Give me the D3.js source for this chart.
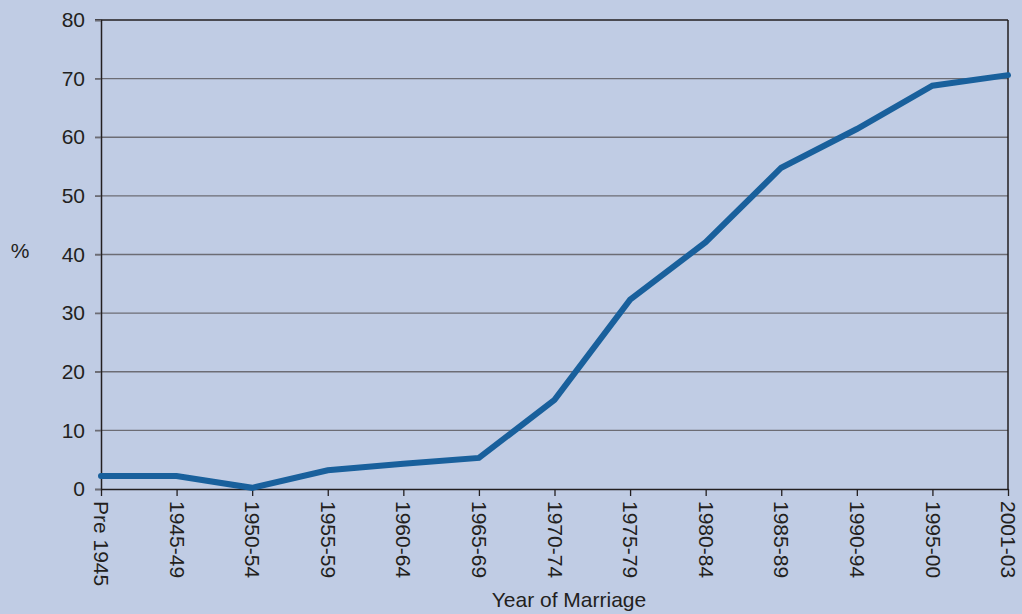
<!DOCTYPE html>
<html>
<head>
<meta charset="utf-8">
<script src="https://cdn.jsdelivr.net/npm/d3@7"></script>
<style>
  body { margin: 0; background: #c0cce4; }
  svg { display: block; }
  text { font-family: "Liberation Sans", Arial, sans-serif; fill: #231f20; }
</style>
</head>
<body>
<div id="chart"></div>
<script>
// data
const categories = ["Pre 1945", "1945-49", "1950-54", "1955-59", "1960-64", "1965-69",
    "1970-74", "1975-79", "1980-84", "1985-89", "1990-94", "1995-00", "2001-03"];
const values = [2.2, 2.2, 0.2, 3.2, 4.3, 5.3, 15.2, 32.3, 42.1, 54.8, 61.4, 68.8, 70.6];
const yTicks = [0, 10, 20, 30, 40, 50, 60, 70, 80];

const width = 1022, height = 614;
const margin = {top: 20, right: 14, bottom: 125, left: 101};

const svg = d3.select("#chart").append("svg")
    .attr("width", width)
    .attr("height", height);

const x = d3.scalePoint()
    .domain(categories)
    .range([margin.left, width - margin.right]);

const y = d3.scaleLinear()
    .domain([0, 80])
    .range([height - margin.bottom, margin.top]);

// gridlines
svg.append("g")
    .selectAll("line")
    .data(yTicks.filter(d => d > 0 && d < 80))
    .join("line")
    .attr("x1", margin.left - 6)
    .attr("x2", width - margin.right)
    .attr("y1", d => y(d))
    .attr("y2", d => y(d))
    .attr("stroke", "#6c6c74")
    .attr("stroke-width", 1.3);

// top and right borders
svg.append("line")
    .attr("x1", margin.left - 6).attr("x2", width - margin.right)
    .attr("y1", y(80)).attr("y2", y(80))
    .attr("stroke", "#231f20").attr("stroke-width", 1.5);
svg.append("line")
    .attr("x1", width - margin.right).attr("x2", width - margin.right)
    .attr("y1", y(80)).attr("y2", y(0))
    .attr("stroke", "#231f20").attr("stroke-width", 1.5);

// y axis
const yAxis = svg.append("g")
    .attr("transform", `translate(${margin.left},0)`)
    .call(d3.axisLeft(y).tickValues(yTicks).tickSize(6).tickPadding(10));
yAxis.select(".domain").attr("stroke", "#231f20").attr("stroke-width", 1.5);
yAxis.selectAll(".tick line").attr("stroke", "#6c6c74").attr("stroke-width", 1.3);
yAxis.selectAll(".tick text")
    .style("font-size", "21px")
    .style("fill", "#231f20");

// x axis
const xAxis = svg.append("g")
    .attr("transform", `translate(0,${y(0)})`)
    .call(d3.axisBottom(x).tickSize(7).tickSizeOuter(0));
xAxis.select(".domain").attr("stroke", "#231f20").attr("stroke-width", 1.5);
xAxis.selectAll(".tick line").attr("stroke", "#231f20").attr("stroke-width", 1.3);
xAxis.selectAll(".tick text")
    .style("font-size", "21px")
    .style("fill", "#231f20")
    .attr("text-anchor", "start")
    .attr("y", 0)
    .attr("dy", "0.35em")
    .attr("transform", "translate(0,12) rotate(90)");

// the line
const line = d3.line()
    .x((d, i) => x(categories[i]))
    .y(d => y(d));

svg.append("path")
    .datum(values)
    .attr("fill", "none")
    .attr("stroke", "#19609c")
    .attr("stroke-width", 6)
    .attr("stroke-linecap", "round")
    .attr("stroke-linejoin", "miter")
    .attr("d", line);

// axis titles
svg.append("text")
    .attr("x", 20)
    .attr("y", 258)
    .attr("text-anchor", "middle")
    .style("font-size", "21px")
    .text("%");

svg.append("text")
    .attr("x", 569)
    .attr("y", 607)
    .attr("text-anchor", "middle")
    .style("font-size", "21px")
    .text("Year of Marriage");
</script>
</body>
</html>
